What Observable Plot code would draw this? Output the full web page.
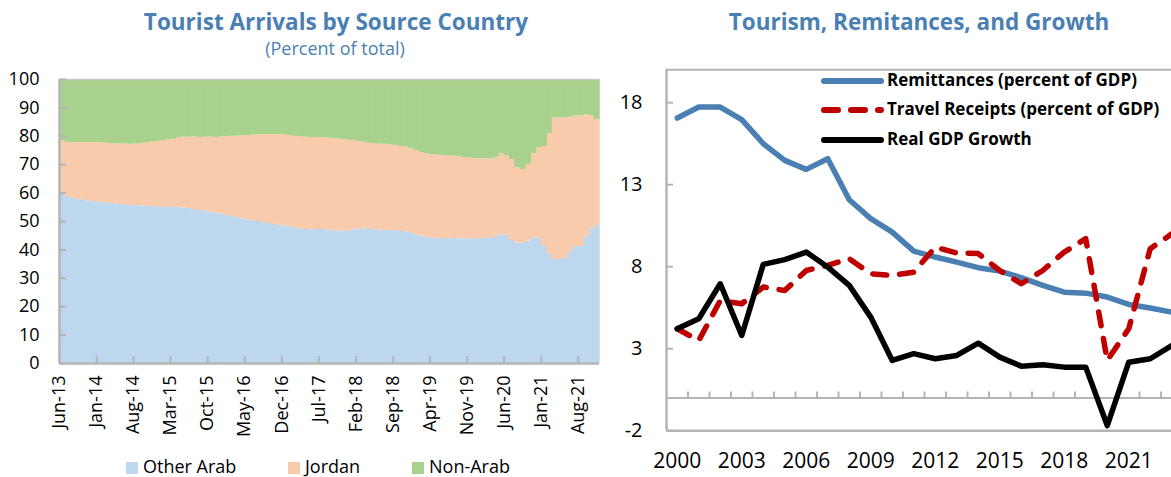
<!DOCTYPE html>
<html><head><meta charset="utf-8">
<script src="https://cdn.jsdelivr.net/npm/d3@7"></script>
<script src="https://cdn.jsdelivr.net/npm/@observablehq/plot@0.6"></script>
<style>
html,body{margin:0;padding:0;background:#fff;overflow:hidden;}
#root{position:relative;width:1171px;height:477px;overflow:hidden;font-family:"Open Sans",sans-serif;}
.abs{position:absolute;white-space:nowrap;}
.title{color:#4a7fb3;font-weight:bold;font-size:22.5px;line-height:24px;transform:translateX(-50%);}
.sub{color:#4a7fb3;font-size:18px;line-height:20px;transform:translateX(-50%);}
.lg{font-size:18px;line-height:18px;color:#000;}
.sw{position:absolute;width:12px;height:12px;}
.rl{font-size:17px;font-weight:bold;line-height:18px;color:#000;}
</style></head><body><div id="root"></div>
<script>
// ---------- Left panel data: Tourist arrivals by source country (percent of total), monthly from Jun-13 ----------
const seriesNames = ["Other Arab", "Jordan", "Non-Arab"];
const otherArab = [59.8,58.8,58.2,57.8,57.5,57.2,57.0,56.8,56.6,56.4,
56.2,56.0,55.9,55.7,55.6,55.5,55.4,55.3,55.2,55.1,
55.0,55.0,55.0,54.7,54.5,54.2,53.9,53.6,53.3,53.0,
52.6,52.2,51.8,51.4,51.0,50.6,50.3,50.0,49.6,49.3,
49.0,48.7,48.4,48.1,47.8,47.4,47.2,47.1,47.2,47.2,
47.0,46.8,46.7,46.6,46.8,47.1,47.4,47.4,47.2,47.1,
47.0,46.9,46.8,46.8,46.5,46.2,45.9,45.3,44.8,44.3,
44.2,44.1,44.0,43.9,44.0,43.9,43.9,43.9,43.9,44.1,
44.1,44.1,44.8,45.3,45.2,43.3,42.4,42.4,43.1,44.2,
44.2,41.5,38.6,36.6,36.6,37.2,39.5,41.2,41.2,44.5,
47.4,48.6];
const jordan = [18.7,19.1,19.5,20.0,20.3,20.6,20.8,21.0,21.0,21.1,
21.2,21.3,21.4,21.5,21.7,22.0,22.4,22.7,23.0,23.4,
23.8,24.0,24.5,25.0,25.2,25.6,25.7,26.1,26.4,26.6,
27.2,27.7,28.2,28.7,29.2,29.7,30.1,30.5,31.0,31.3,
31.6,31.9,32.1,32.2,32.2,32.4,32.5,32.5,32.4,32.3,
32.4,32.5,32.5,32.3,31.9,31.4,30.8,30.5,30.3,30.2,
30.3,30.3,30.2,30.0,30.0,30.0,29.7,29.7,29.5,29.5,
29.3,29.2,29.2,29.1,29.0,28.9,28.6,28.4,28.3,28.0,
27.9,27.9,27.8,28.5,28.0,28.5,26.5,25.9,27.0,29.6,
31.7,34.9,42.3,49.9,49.9,49.3,47.3,46.0,46.0,43.1,
39.8,37.3];
const nonArab = [21.5,22.1,22.3,22.2,22.2,22.2,22.2,22.2,22.4,22.5,
22.6,22.7,22.7,22.8,22.7,22.5,22.2,22.0,21.8,21.5,
21.2,21.0,20.5,20.3,20.3,20.2,20.4,20.3,20.3,20.4,
20.2,20.1,20.0,19.9,19.8,19.7,19.6,19.5,19.4,19.4,
19.4,19.4,19.5,19.7,20.0,20.2,20.3,20.4,20.4,20.5,
20.6,20.7,20.8,21.1,21.3,21.5,21.8,22.1,22.5,22.7,
22.7,22.8,23.0,23.2,23.5,23.8,24.4,25.0,25.7,26.2,
26.5,26.7,26.8,27.0,27.0,27.2,27.5,27.7,27.8,27.9,
28.0,28.0,27.4,26.2,26.8,28.2,31.1,31.7,29.9,26.2,
24.1,23.6,19.1,13.5,13.5,13.5,13.2,12.8,12.8,12.4,
12.8,14.1];
const firstMonthLabel = "Jun-13";
const leftTickLabels = ["Jun-13","Jan-14","Aug-14","Mar-15","Oct-15","May-16","Dec-16","Jul-17","Feb-18","Sep-18","Apr-19","Nov-19","Jun-20","Jan-21","Aug-21"];
const leftYTicks = [0,10,20,30,40,50,60,70,80,90,100];

// ---------- Right panel data: Tourism, remittances and growth ----------
const years = [2000,2001,2002,2003,2004,2005,2006,2007,2008,2009,2010,2011,2012,2013,2014,2015,2016,2017,2018,2019,2020,2021,2022,2023];
const remittances = [17.06,17.73,17.73,16.96,15.5,14.48,13.93,14.58,12.08,10.93,10.11,8.95,8.59,8.28,7.94,7.73,7.33,6.86,6.45,6.39,6.15,5.70,5.48,5.23];
const travelReceipts = [4.22,3.5,5.94,5.74,6.76,6.55,7.77,8.08,8.49,7.57,7.47,7.67,9.19,8.83,8.8,7.77,6.96,7.77,8.89,9.71,2.29,4.22,9.1,10.0];
const gdpGrowth = [4.22,4.83,6.96,3.81,8.14,8.43,8.89,7.98,6.86,4.93,2.29,2.70,2.39,2.59,3.34,2.49,1.94,2.02,1.88,1.88,-1.68,2.18,2.39,3.2];
const rightXTickLabels = [2000,2003,2006,2009,2012,2015,2018,2021];
const rightYTicks = [-2,3,8,13,18];
const lineNames = ["Remittances (percent of GDP)","Travel Receipts (percent of GDP)","Real GDP Growth"];

// ---------- Styles ----------
const areaColors = ["#bdd7ee","#f8cbad","#a9d18e"];
const axisGray = "#b4b4b4";
const blue = "#4a7fb3", red = "#c00000";

const root = document.getElementById("root");
function addDiv(cls, text, style){ const d=document.createElement("div"); d.className="abs "+cls; d.textContent=text; Object.assign(d.style, style); root.appendChild(d); return d; }

// Titles
addDiv("title","Tourist Arrivals by Source Country",{left:"336px",top:"10px"});
addDiv("sub","(Percent of total)",{left:"335px",top:"38px"});
addDiv("title","Tourism, Remitances, and Growth",{left:"919px",top:"10px"});

// ---------- Left chart ----------
const parseMon = d3.utcParse("%b-%y");
const start = parseMon(firstMonthLabel);
const months = otherArab.map((_, k) => d3.utcMonth.offset(start, k));
const end = d3.utcMonth.offset(start, otherArab.length);
const leftTicks = leftTickLabels.map(parseMon);
const arrivals = [];
[otherArab, jordan, nonArab].forEach((vals, j) => months.forEach((m, k) => arrivals.push({date: m, series: seriesNames[j], value: vals[k]})));

const left = Plot.plot({
  width: 610, height: 417,
  marginLeft: 59, marginRight: 11, marginTop: 19, marginBottom: 114,
  style: {fontFamily: "Open Sans", fontSize: "18px", color: "#000", background: "transparent", overflow: "visible"},
  x: {type: "utc", domain: [start, end], ticks: leftTicks, tickFormat: d3.utcFormat("%b-%y"), tickSize: 0, tickPadding: 12, tickRotate: -90, label: null},
  y: {domain: [0, 100], ticks: leftYTicks, tickSize: 0, tickPadding: 20, label: null},
  color: {domain: seriesNames, range: areaColors},
  marks: [
    Plot.rectY(arrivals, {x: "date", interval: d3.utcMonth, y: "value", fill: "series", insetLeft: 0, insetRight: -0.7}),
    Plot.ruleY([100], {stroke: "#c8c8c8", strokeWidth: 1.5}),
    Plot.ruleY(leftYTicks, {y: d => d, x1: start, x2: start, insetRight: -7, stroke: axisGray, strokeWidth: 2}),
    Plot.ruleX(leftTicks, {x: d => d, y1: 0, y2: 0, insetBottom: 7, stroke: axisGray, strokeWidth: 2}),
    Plot.ruleX([start], {stroke: axisGray, strokeWidth: 2.5}),
    Plot.ruleY([0], {stroke: axisGray, strokeWidth: 2.5})
  ]
});
left.style.position = "absolute"; left.style.left = "0px"; left.style.top = "60px";
root.appendChild(left);

// Left legend
const legX = [126, 288, 412];
seriesNames.forEach((s, j) => {
  const sw = document.createElement("div"); sw.className = "sw";
  Object.assign(sw.style, {left: legX[j] + "px", top: "462px", background: areaColors[j]});
  root.appendChild(sw);
  addDiv("lg", s, {left: (legX[j] + 17) + "px", top: "457px"});
});

// ---------- Right chart ----------
const table = years.map((y, k) => ({year: y, remittances: remittances[k], travel: travelReceipts[k], growth: gdpGrowth[k]}));
const x0 = years[0] - 0.5;
const boundaries = years.map(y => y + 0.5);
const right = Plot.plot({
  width: 620, height: 417,
  marginLeft: 56, marginRight: 26.5, marginTop: 9.3, marginBottom: 46.7,
  style: {fontFamily: "Open Sans", fontSize: "20px", color: "#000", background: "transparent", overflow: "visible"},
  x: {domain: [x0, years[years.length - 1] + 1.5], ticks: rightXTickLabels, tickFormat: d => String(d), tickSize: 0, tickPadding: 22, label: null},
  y: {domain: [-2, 20], ticks: rightYTicks, tickFormat: d => String(d), tickSize: 0, tickPadding: 24, label: null},
  marks: [
    Plot.ruleY([20], {stroke: axisGray, strokeWidth: 2}),
    Plot.ruleY([-2], {stroke: axisGray, strokeWidth: 2.5}),
    Plot.ruleX([x0], {stroke: axisGray, strokeWidth: 2.5}),
    Plot.ruleY([0], {stroke: axisGray, strokeWidth: 2}),
    Plot.ruleX(boundaries, {x: d => d, y1: 0, y2: 0, insetBottom: 6, stroke: axisGray, strokeWidth: 2}),
    Plot.ruleY(rightYTicks, {y: d => d, x1: x0, x2: x0, insetRight: -7, stroke: axisGray, strokeWidth: 2}),
    Plot.line(table, {x: "year", y: "remittances", stroke: blue, strokeWidth: 5.5, strokeLinejoin: "round", strokeLinecap: "round"}),
    Plot.line(table, {x: "year", y: "travel", stroke: red, strokeWidth: 5.5, strokeDasharray: "14,13", strokeLinejoin: "round", strokeLinecap: "round"}),
    Plot.line(table, {x: "year", y: "growth", stroke: "#000", strokeWidth: 5.5, strokeLinejoin: "round", strokeLinecap: "round"})
  ]
});
right.style.position = "absolute"; right.style.left = "610px"; right.style.top = "60px";
root.appendChild(right);
right.querySelectorAll("g[aria-label='x-axis tick label'] text, g[aria-label='x-axis tick label']").forEach(e => e.setAttribute("font-size", "21"));

// Right legend (inside plot, top)
const legSvgNS = "http://www.w3.org/2000/svg";
const legStyles = [{stroke: blue}, {stroke: red, dash: "14,13"}, {stroke: "#000"}];
const rowY = [81, 110, 139.5];
lineNames.forEach((name, j) => {
  const svg = document.createElementNS(legSvgNS, "svg");
  svg.setAttribute("width", 70); svg.setAttribute("height", 14);
  Object.assign(svg.style, {position: "absolute", left: "818px", top: (rowY[j] - 7) + "px"});
  const ln = document.createElementNS(legSvgNS, "line");
  ln.setAttribute("x1", 6); ln.setAttribute("x2", 63); ln.setAttribute("y1", 7); ln.setAttribute("y2", 7);
  ln.setAttribute("stroke", legStyles[j].stroke); ln.setAttribute("stroke-width", 6); ln.setAttribute("stroke-linecap", "round");
  if (legStyles[j].dash) ln.setAttribute("stroke-dasharray", legStyles[j].dash);
  svg.appendChild(ln); root.appendChild(svg);
  addDiv("rl", name, {left: "887px", top: (rowY[j] - 10) + "px"});
});
</script>
</body></html>
